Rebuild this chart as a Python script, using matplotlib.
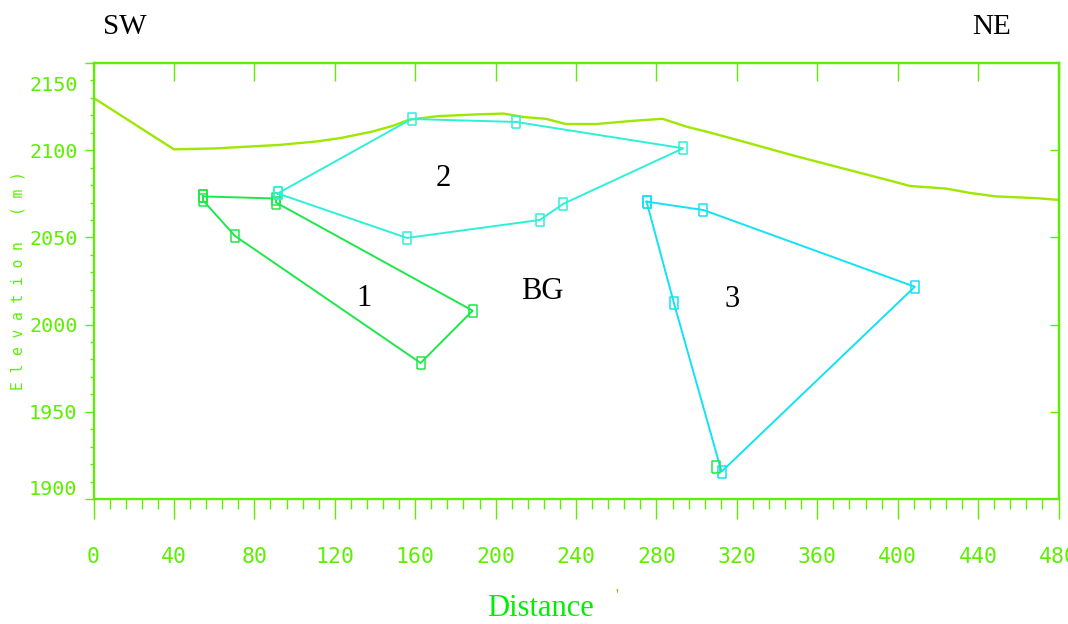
import matplotlib
matplotlib.use('Agg')
import matplotlib.pyplot as plt
import matplotlib.transforms as mtransforms
import numpy as np

# ground surface along the profile
topo_x = [0, 40, 60, 92, 111, 123, 138, 149, 157, 171, 190, 204, 214, 225, 235,
          250, 270, 283, 295, 307, 323, 348, 373, 398, 406, 424, 436, 449, 469, 480]
topo_y = [2130, 2100.5, 2101, 2103, 2105, 2107, 2110.5, 2114, 2117.5, 2119.5, 2120.5,
          2121, 2119, 2118, 2115, 2115, 2117, 2118, 2113.5, 2110, 2105, 2097, 2089.5,
          2082, 2079.5, 2078, 2075.5, 2073.5, 2072.5, 2071.5]

# body outlines (distance, elevation)
body1_x = [54.5, 90.8, 90.8, 188.6, 162.7, 70.4, 54.5]
body1_y = [2073.5, 2072.3, 2070, 2008, 1978, 2050.8, 2071.2]
body2_x = [91.6, 158.2, 210.1, 293.3, 233.6, 222, 155.9]
body2_y = [2075.2, 2117.9, 2116.2, 2101.1, 2069.2, 2060, 2049.7]
body3_x = [275.1, 303.4, 408.5, 312.4, 288.7]
body3_y = [2070.5, 2065.7, 2021.7, 1915.7, 2012.4]
extra_x = [309.5]
extra_y = [1918.1]

labels = ['1', '2', 'BG', '3']
label_x = [134.5, 174, 223, 317.7]
label_y = [2015, 2084, 2019, 2014.5]

xticks = np.arange(0, 481, 40)
yticks = np.arange(1900, 2151, 50)

green = '#5cf000'
c_topo = '#9ee800'
c_b1 = '#1de84a'
c_b2 = '#2ef0d8'
c_b3 = '#12e2f5'
serif = 'Liberation Serif'
mono = 'DejaVu Sans Mono'

# tall hollow box used for the station markers
box = [(-0.63, -1), (0.63, -1), (0.63, 1), (-0.63, 1), (-0.63, -1)]

fig = plt.figure(figsize=(10.68, 6.24), dpi=100)
ax = fig.add_axes([93.5 / 1068, 1 - 499 / 624, 965 / 1068, 436 / 624])

ax.plot(topo_x, topo_y, color=c_topo, lw=1.7)

def outline(xs, ys, col):
    xs = list(xs) + [xs[0]]
    ys = list(ys) + [ys[0]]
    ax.plot(xs, ys, color=col, lw=1.4, marker=box, markersize=8.5,
            markerfacecolor='none', markeredgecolor=col, markeredgewidth=1.1)

outline(body1_x, body1_y, c_b1)
outline(body2_x, body2_y, c_b2)
outline(body3_x, body3_y, c_b3)
ax.plot(extra_x, extra_y, ls='none', marker=box, markersize=8.5,
        markerfacecolor='none', markeredgecolor=c_b1, markeredgewidth=1.1)

for t, x, y in zip(labels, label_x, label_y):
    ax.text(x, y, t, fontsize=22, family=serif, color='black', ha='center', va='center')

ax.set_xlim(0, 480)
ax.set_ylim(1900, 2150)

for s in ax.spines.values():
    s.set_color(green)
    s.set_linewidth(1.6)

ax.set_xticks(xticks)
ax.set_xticks(np.arange(0, 481, 8), minor=True)
ax.set_yticks(yticks)
ax.set_yticks(np.arange(1900, 2151, 10), minor=True)
ax.set_xticklabels([str(v) for v in xticks], family=mono, fontsize=15.5, color=green)
ax.set_yticklabels([str(v) for v in yticks], family=mono, fontsize=14.5, color=green)

ax.tick_params(axis='x', which='major', direction='out', length=14.4, width=1, color=green, pad=20)
ax.tick_params(axis='x', which='minor', direction='out', length=7.2, width=1, color=green)
ax.tick_params(axis='y', which='major', direction='out', length=6.5, width=1, color=green, pad=5)
ax.tick_params(axis='y', which='minor', direction='out', length=3.2, width=1, color=green)

# end labels sit inside the frame
ylabs = ax.get_yticklabels()
ylabs[-1].set_transform(ylabs[-1].get_transform() +
                        mtransforms.ScaledTranslation(0, -20 / 100, fig.dpi_scale_trans))
ylabs[0].set_transform(ylabs[0].get_transform() +
                       mtransforms.ScaledTranslation(0, 12 / 100, fig.dpi_scale_trans))

top = ax.secondary_xaxis('top')
top.set_xticks(xticks)
top.tick_params(direction='in', length=13, width=1, color=green, labeltop=False)
top.spines['top'].set_color(green)
top.spines['top'].set_linewidth(1.6)

right = ax.secondary_yaxis('right')
right.set_yticks(yticks[1:-1])
right.tick_params(direction='in', length=6.5, width=1, color=green, labelright=False)
right.spines['right'].set_color(green)
right.spines['right'].set_linewidth(1.6)

ax.set_ylabel('E l e v a t i o n   ( m )', family=mono, fontsize=10.5, color=green)
ax.yaxis.set_label_coords(-0.07, 0.5)
ax.set_xlabel('Distance', family=serif, fontsize=22, color='#00ee00')
ax.xaxis.set_label_coords(0.4627, -0.219)

fig.text(125 / 1068, 1 - 27 / 624, 'SW', family=serif, fontsize=21, ha='center', va='center')
fig.text(992 / 1068, 1 - 27 / 624, 'NE', family=serif, fontsize=21, ha='center', va='center')
fig.text(617 / 1068, 1 - 596 / 624, "'", family=serif, fontsize=12, color='#77cc00',
         ha='center', va='center')

fig.savefig('out.png', dpi=100)
